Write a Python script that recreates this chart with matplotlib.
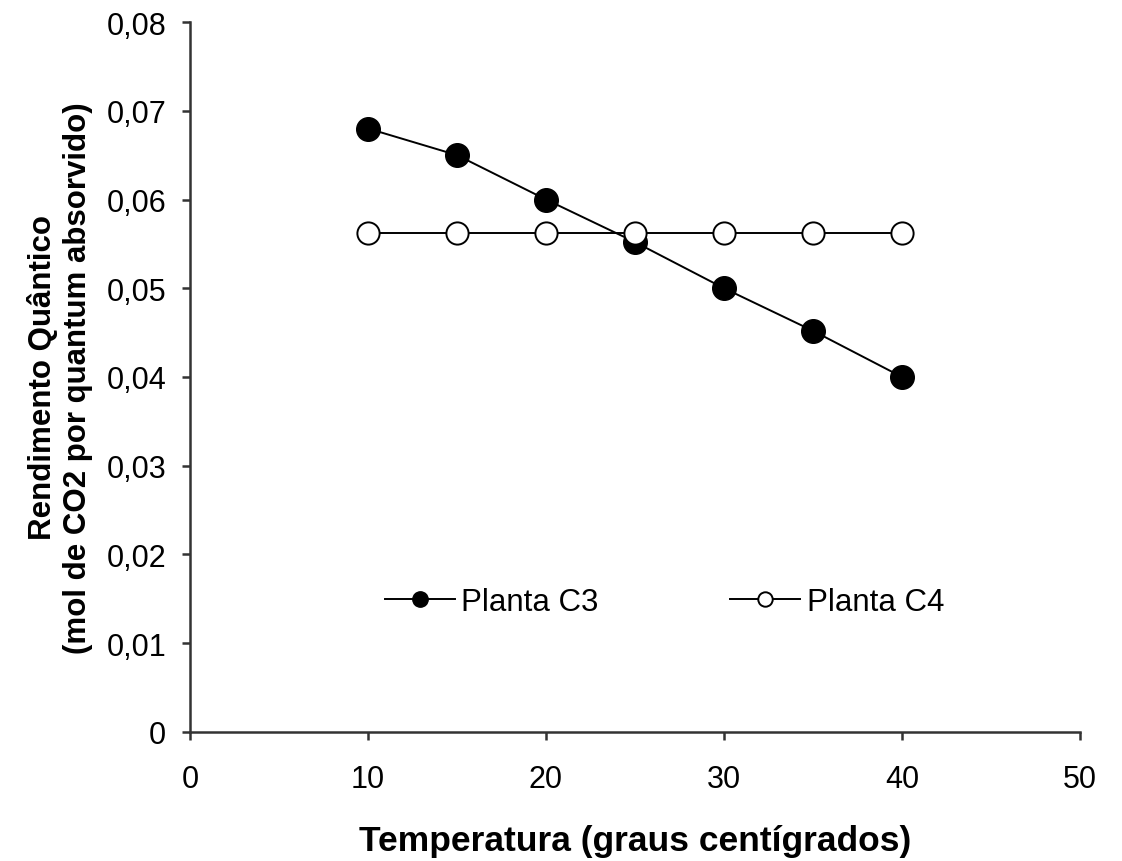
import matplotlib.pyplot as plt
from matplotlib.ticker import FuncFormatter

plt.rcParams['font.family'] = ['Liberation Sans', 'DejaVu Sans']

temperatura = [10, 15, 20, 25, 30, 35, 40]
planta_c3 = [0.068, 0.065, 0.060, 0.0552, 0.050, 0.0452, 0.040]
planta_c4 = [0.0562, 0.0562, 0.0562, 0.0562, 0.0562, 0.0562, 0.0562]

fig = plt.figure(figsize=(11.22, 8.62), dpi=100)
ax = fig.add_axes([0.1693, 0.1497, 0.7933, 0.8236])

ax.plot(temperatura, planta_c3, color="black", lw=1.4, marker="o", ms=17,
        mfc="black", mec="black", label="Planta C3", clip_on=False)
ax.plot(temperatura, planta_c4, color="black", lw=1.4, marker="o", ms=16,
        mfc="white", mec="black", mew=1.4, label="Planta C4", clip_on=False)

ax.set_xlim(0, 50)
ax.set_ylim(0, 0.08)
ax.set_xticks([0, 10, 20, 30, 40, 50])
ax.set_yticks([0, 0.01, 0.02, 0.03, 0.04, 0.05, 0.06, 0.07, 0.08])
ax.yaxis.set_major_formatter(FuncFormatter(
    lambda v, p: "0" if v == 0 else f"{v:.2f}".replace(".", ",")))

for side in ["top", "right"]:
    ax.spines[side].set_visible(False)
for side in ["left", "bottom"]:
    ax.spines[side].set_linewidth(1.8)
    ax.spines[side].set_color("#333333")
ax.tick_params(direction="out", length=6, width=1.8, color="#333333",
               labelsize=22)
ax.tick_params(axis="x", pad=17)
ax.tick_params(axis="y", pad=11)

ax.set_xlabel("Temperatura (graus centígrados)", fontsize=25.5,
              fontweight="bold", labelpad=22)
ax.set_ylabel("Rendimento Quântico\n(mol de CO2 por quantum absorvido)",
              fontsize=22.5, fontweight="bold", labelpad=10)

leg = ax.legend(loc="center left", bbox_to_anchor=(0.219, 0.183), ncol=2,
                frameon=False, fontsize=22.5, markerscale=0.65,
                handlelength=2.25, handletextpad=0.2, columnspacing=4.2,
                borderpad=0, borderaxespad=0)

fig.savefig("out.png", dpi=100)
